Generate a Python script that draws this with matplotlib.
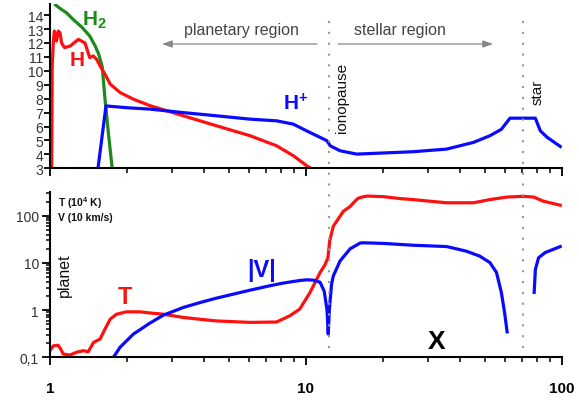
import numpy as np
import matplotlib.pyplot as plt
from matplotlib.lines import Line2D
from matplotlib.patches import FancyArrowPatch
from matplotlib.ticker import FixedLocator, FixedFormatter, LogLocator, NullFormatter
from matplotlib.transforms import blended_transform_factory

plt.rcParams['font.family'] = ['Liberation Sans', 'DejaVu Sans']
plt.rcParams['mathtext.fontset'] = 'custom'
plt.rcParams['mathtext.rm'] = 'Liberation Sans'
plt.rcParams['mathtext.bf'] = 'Liberation Sans:bold'
plt.rcParams['mathtext.it'] = 'Liberation Sans:italic'

# top panel: log10 of number densities
h2_x = [1.04, 1.1, 1.16, 1.23, 1.33, 1.43, 1.5, 1.55, 1.6, 1.64, 1.69, 1.75]
h2_y = [14.8, 14.45, 14.17, 13.7, 13.15, 12.5, 11.8, 11.2, 10.3, 8.0, 5.6, 3.0]

h_x = [1.015, 1.02, 1.03, 1.04, 1.06, 1.077, 1.094, 1.11, 1.14, 1.2, 1.29, 1.37, 1.43,
       1.476, 1.52, 1.57, 1.64, 1.72, 1.88, 2.12, 2.46, 3.32, 4.48, 6.05, 7.68, 8.94,
       10.07, 10.9]
h_y = [3.0, 10.3, 12.0, 12.86, 12.14, 12.86, 12.74, 12.0, 11.67, 11.78, 12.26, 12.0, 10.95,
       11.07, 10.83, 10.35, 9.76, 9.04, 8.44, 7.96, 7.5, 6.77, 6.05, 5.34, 4.62, 3.9,
       3.19, 2.8]

hp_x = [1.54, 1.655, 2.0, 2.46, 3.32, 4.48, 6.05, 7.68, 8.94, 10.07, 11.37, 12.09, 12.45,
        13.6, 15.8, 20.1, 26.2, 35.5, 45.2, 52.4, 58.1, 61.0, 62.8, 78.9, 82.5, 87.8, 100]
hp_y = [3.0, 7.48, 7.35, 7.25, 7.0, 6.77, 6.53, 6.41, 6.17, 5.69, 5.22, 4.98, 4.62,
        4.26, 4.02, 4.1, 4.19, 4.38, 4.86, 5.34, 5.8, 6.3, 6.6, 6.6, 5.69, 5.22, 4.5]

# bottom panel: temperature (1e4 K) and |velocity| (10 km/s)
t_x = [1.0, 1.03, 1.077, 1.10, 1.127, 1.197, 1.27, 1.35, 1.41, 1.48, 1.57, 1.64, 1.72,
       1.82, 1.99, 2.25, 2.46, 2.77, 3.32, 3.86, 4.48, 6.05, 7.68, 8.66, 9.46, 10.38,
       11.37, 11.9, 12.2, 12.4, 12.8, 13.2, 14.0, 14.9, 15.5, 16.0, 16.8, 17.5, 20.1,
       23.4, 26.2, 35.5, 45.2, 52.4, 61.0, 70.5, 77.7, 84.8, 90.0, 100]
t_y = [0.138, 0.175, 0.18, 0.15, 0.117, 0.112, 0.128, 0.138, 0.131, 0.207, 0.244, 0.396,
       0.645, 0.82, 0.92, 0.92, 0.87, 0.82, 0.70, 0.64, 0.59, 0.55, 0.56, 0.76, 1.05, 2.36,
       6.3, 9.3, 13.0, 30.0, 60.0, 77.0, 124, 158, 200, 235, 255, 262, 255,
       232, 221, 189, 189, 221, 250, 259, 250, 204, 189, 165]

v1_x = [1.77, 1.878, 2.117, 2.456, 2.77, 3.32, 3.86, 4.48, 5.05, 6.05, 7.25, 8.16, 9.46,
        10.07, 10.7, 11.37, 11.8, 12.1, 12.23, 12.35, 12.6, 12.8, 13.6, 14.9, 16.3, 16.8,
        20.1, 26.2, 35.5, 42.4, 47.8, 52.4, 55.6, 58.1, 59.8, 61.3]
v1_y = [0.1, 0.163, 0.31, 0.53, 0.78, 1.14, 1.45, 1.8, 2.1, 2.65, 3.3, 3.75, 4.25,
        4.4, 4.33, 3.9, 2.5, 1.0, 0.31, 1.0, 3.5, 5.3, 11.0, 20.0, 26.5, 26.8,
        26.0, 23.8, 22.3, 17.8, 14.0, 10.2, 6.3, 2.37, 0.89, 0.32]

v2_x = [78.0, 78.9, 81.2, 86.1, 100]
v2_y = [2.2, 7.3, 12.9, 16.6, 22.9]

ionopause_x = 12.36
star_x = 70.5

W, H = 579, 402
fig = plt.figure(figsize=(W / 100, H / 100), dpi=100)
ax1 = fig.add_axes([50 / W, 1 - 169.3 / H, 511.7 / W, 164.3 / H])
ax2 = fig.add_axes([50 / W, 1 - 358.3 / H, 511.7 / W, 165.3 / H])

red, blue, green = '#ff1010', '#0a0aff', '#1e8a1e'
style = dict(lw=2.3, solid_joinstyle='round', solid_capstyle='butt')

ax1.plot(h2_x, h2_y, color=green, **style)
ax1.plot(h_x, h_y, color=red, **style)
ax1.plot(hp_x, hp_y, color=blue, **style)
ax2.plot(t_x, t_y, color=red, **style)
ax2.plot(v1_x, v1_y, color=blue, **style)
ax2.plot(v2_x, v2_y, color=blue, **style)

for ax in (ax1, ax2):
    ax.set_xscale('log')
    ax.set_xlim(1, 100)
    for s in ('top', 'right'):
        ax.spines[s].set_visible(False)
    for s in ('left', 'bottom'):
        ax.spines[s].set_linewidth(1.5)
    ax.tick_params(which='major', direction='out', width=1.3, length=5.5,
                   labelsize=10, labelcolor='#333333', pad=1)
    ax.tick_params(which='minor', direction='out', width=1.1, length=3.5)
    ax.tick_params(axis='x', which='major', length=6)

ax1.set_ylim(3, 14.8)
ax1.yaxis.set_major_locator(FixedLocator(range(3, 15)))
ax1.tick_params(axis='y', length=4)
ax1.xaxis.set_major_formatter(NullFormatter())
ax1.xaxis.set_minor_formatter(NullFormatter())

ax2.set_yscale('log')
ax2.set_ylim(0.1, 320)
ax2.yaxis.set_major_locator(FixedLocator([0.1, 1, 10, 100]))
ax2.yaxis.set_major_formatter(FixedFormatter(['0,1', '1', '10', '100']))
ax2.yaxis.set_minor_locator(LogLocator(base=10, subs=np.arange(2, 10)))
ax2.yaxis.set_minor_formatter(NullFormatter())
ax2.tick_params(axis='y', which='major', length=6, pad=2)
ax2.tick_params(axis='y', which='minor', length=3)
ax2.xaxis.set_major_locator(FixedLocator([1, 10, 100]))
ax2.xaxis.set_major_formatter(FixedFormatter(['1', '10', '100']))
ax2.xaxis.set_minor_formatter(NullFormatter())
ax2.tick_params(axis='x', which='major', labelsize=11, labelcolor='black', pad=11)
for lab in ax2.get_xticklabels():
    lab.set_fontweight('bold')

# dotted markers for ionopause and star, running through both panels
trans = blended_transform_factory(ax2.transData, fig.transFigure)
for xv in (ionopause_x, star_x):
    fig.add_artist(Line2D([xv, xv], [1 - 22 / H, 1 - 356 / H], transform=trans,
                          color='#999999', lw=1.5, ls=(0, (1, 4.2))))


def ftext(px, py, s, **kw):
    fig.text(px / W, 1 - py / H, s, ha='center', va='center', **kw)


ftext(94, 20, r'H$_{\mathbf{2}}$', color=green, fontsize=15, fontweight='bold')
ftext(77, 61, 'H', color=red, fontsize=15, fontweight='bold')
ftext(296, 104, r'H$^{\mathbf{+}}$', color=blue, fontsize=15, fontweight='bold')
ftext(125, 298, 'T', color=red, fontsize=17, fontweight='bold')
ftext(262, 271, '|V|', color=blue, fontsize=17, fontweight='bold')
ftext(437, 342, 'X', color='black', fontsize=19, fontweight='bold')
ftext(64, 275, 'planet', fontsize=11.5, rotation=90, color='#111111')
ftext(342, 98, 'ionopause', fontsize=11, rotation=90, color='#111111')
ftext(538, 92, 'star', fontsize=11, rotation=90, color='#111111')
ftext(241, 31, 'planetary region', fontsize=11.5, color='#444444')
ftext(400, 31, 'stellar region', fontsize=11.5, color='#444444')
fig.text(58 / W, 1 - 209 / H, 'T (10$^{\\mathbf{4}}$ K)\nV (10 km/s)', ha='left', va='center',
         fontsize=7.5, fontweight='bold', color='#111111', linespacing=1.3)

arrow = dict(arrowstyle='-|>,head_length=0.5,head_width=0.18', color='#888888', lw=0.9,
             shrinkA=0, shrinkB=0, mutation_scale=12, transform=fig.transFigure)
fig.add_artist(FancyArrowPatch((317 / W, 1 - 45 / H), (162 / W, 1 - 45 / H), **arrow))
fig.add_artist(FancyArrowPatch((338 / W, 1 - 45 / H), (493 / W, 1 - 45 / H), **arrow))

fig.savefig('out.png', dpi=100)
